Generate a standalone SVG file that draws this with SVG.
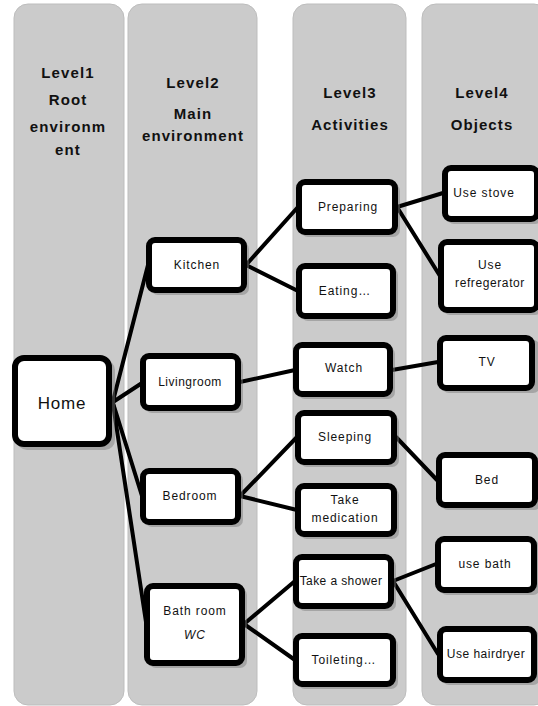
<svg xmlns="http://www.w3.org/2000/svg" width="538" height="706" viewBox="0 0 538 706">
<style>
.col{fill:#cbcbcb;stroke:#bdbdbd;stroke-width:1}
.hd{font-family:"Liberation Sans",Arial,sans-serif;font-weight:bold;font-size:15px;letter-spacing:1.1px;fill:#111;text-anchor:middle}
.box{fill:#fff;stroke:#000;stroke-width:6}
.sh{fill:#777;opacity:0.45}
.t{font-family:"Liberation Sans",Arial,sans-serif;font-size:12px;letter-spacing:0.9px;fill:#111;text-anchor:middle}
.c line{stroke:#000;stroke-width:4;stroke-linecap:round}
</style>
<rect width="538" height="706" fill="#fff"/>
<g id="columns">
<rect class="col" x="14" y="4" width="110" height="701" rx="14"/>
<rect class="col" x="128" y="4" width="129" height="701" rx="14"/>
<rect class="col" x="293" y="4" width="113" height="701" rx="14"/>
<rect class="col" x="422" y="4" width="126" height="701" rx="14"/>
</g>
<g id="headers">
<text class="hd" x="68" y="78">Level1</text>
<text class="hd" x="68" y="105">Root</text>
<text class="hd" x="68" y="132">environm</text>
<text class="hd" x="68" y="155">ent</text>
<text class="hd" x="193" y="88">Level2</text>
<text class="hd" x="193" y="119">Main</text>
<text class="hd" x="193" y="141">environment</text>
<text class="hd" x="350" y="98">Level3</text>
<text class="hd" x="350" y="130">Activities</text>
<text class="hd" x="482" y="98">Level4</text>
<text class="hd" x="482" y="130">Objects</text>
</g>
<g id="connectors" class="c">
<line x1="113" y1="401" x2="148" y2="265"/>
<line x1="113" y1="402" x2="142" y2="383"/>
<line x1="113" y1="403" x2="142" y2="496"/>
<line x1="113" y1="404" x2="146" y2="622"/>
<line x1="246" y1="265" x2="298" y2="207"/>
<line x1="246" y1="265" x2="298" y2="291"/>
<line x1="240" y1="382" x2="295" y2="370"/>
<line x1="240" y1="496" x2="297" y2="437"/>
<line x1="240" y1="496" x2="297" y2="510"/>
<line x1="244" y1="624" x2="295" y2="581"/>
<line x1="244" y1="624" x2="295" y2="660"/>
<line x1="397" y1="207" x2="443" y2="193"/>
<line x1="397" y1="207" x2="440" y2="276"/>
<line x1="392" y1="370" x2="438" y2="362"/>
<line x1="396" y1="437" x2="437" y2="480"/>
<line x1="393" y1="581" x2="436" y2="564"/>
<line x1="393" y1="581" x2="438" y2="654"/>
</g>
<g id="home">
<rect class="sh" x="17" y="360" width="98" height="90" rx="10"/>
<rect class="box" x="15" y="358" width="94" height="86" rx="9"/>
<text class="t" x="62" y="409" style="font-size:17px;letter-spacing:0.8px">Home</text>
</g>
<g id="kitchen">
<rect class="sh" x="151" y="242" width="98" height="53" rx="7"/>
<rect class="box" x="149" y="240" width="95" height="50" rx="6"/>
<text class="t" x="197" y="269">Kitchen</text>
</g>
<g id="livingroom">
<rect class="sh" x="145" y="358" width="98" height="55" rx="7"/>
<rect class="box" x="143" y="356" width="95" height="52" rx="6"/>
<text class="t" x="190" y="386" style="letter-spacing:0.5px">Livingroom</text>
</g>
<g id="bedroom">
<rect class="sh" x="145" y="473" width="98" height="54" rx="7"/>
<rect class="box" x="143" y="471" width="95" height="51" rx="6"/>
<text class="t" x="190" y="500">Bedroom</text>
</g>
<g id="bathroom">
<rect class="sh" x="149" y="588" width="98" height="80" rx="7"/>
<rect class="box" x="147" y="586" width="95" height="77" rx="6"/>
<text class="t" x="195" y="615">Bath room</text>
<text class="t" x="195" y="639" style="font-style:italic">WC</text>
</g>
<g id="preparing">
<rect class="sh" x="301" y="184" width="99" height="53" rx="7"/>
<rect class="box" x="299" y="182" width="96" height="50" rx="6"/>
<text class="t" x="348" y="211">Preparing</text>
</g>
<g id="eating">
<rect class="sh" x="301" y="268" width="97" height="53" rx="7"/>
<rect class="box" x="299" y="266" width="94" height="50" rx="6"/>
<text class="t" x="345" y="295">Eating…</text>
</g>
<g id="watch">
<rect class="sh" x="298" y="347" width="97" height="52" rx="7"/>
<rect class="box" x="296" y="345" width="94" height="49" rx="6"/>
<text class="t" x="344" y="372">Watch</text>
</g>
<g id="sleeping">
<rect class="sh" x="300" y="415" width="99" height="52" rx="7"/>
<rect class="box" x="298" y="413" width="96" height="49" rx="6"/>
<text class="t" x="345" y="441">Sleeping</text>
</g>
<g id="medication">
<rect class="sh" x="300" y="488" width="99" height="51" rx="7"/>
<rect class="box" x="298" y="486" width="96" height="48" rx="6"/>
<text class="t" x="345" y="504">Take</text>
<text class="t" x="345" y="522">medication</text>
</g>
<g id="shower">
<rect class="sh" x="298" y="559" width="98" height="52" rx="7"/>
<rect class="box" x="296" y="557" width="95" height="49" rx="6"/>
<text class="t" x="341" y="585" style="letter-spacing:0.4px">Take a shower</text>
</g>
<g id="toileting">
<rect class="sh" x="298" y="638" width="100" height="51" rx="7"/>
<rect class="box" x="296" y="636" width="97" height="48" rx="6"/>
<text class="t" x="344" y="664">Toileting…</text>
</g>
<g id="stove">
<rect class="sh" x="447" y="170" width="95" height="54" rx="7"/>
<rect class="box" x="445" y="168" width="92" height="51" rx="6"/>
<text class="t" x="484" y="197">Use stove</text>
</g>
<g id="refregerator">
<rect class="sh" x="443" y="244" width="99" height="71" rx="7"/>
<rect class="box" x="441" y="242" width="96" height="68" rx="6"/>
<text class="t" x="490" y="269">Use</text>
<text class="t" x="490" y="287" style="letter-spacing:0.6px">refregerator</text>
</g>
<g id="tv">
<rect class="sh" x="442" y="340" width="98" height="53" rx="7"/>
<rect class="box" x="440" y="338" width="92" height="50" rx="6"/>
<text class="t" x="487" y="366">TV</text>
</g>
<g id="bed">
<rect class="sh" x="441" y="457" width="100" height="53" rx="7"/>
<rect class="box" x="439" y="455" width="96" height="50" rx="6"/>
<text class="t" x="487" y="484">Bed</text>
</g>
<g id="usebath">
<rect class="sh" x="440" y="541" width="100" height="54" rx="7"/>
<rect class="box" x="438" y="539" width="96" height="51" rx="6"/>
<text class="t" x="485" y="568">use bath</text>
</g>
<g id="hairdryer">
<rect class="sh" x="442" y="631" width="98" height="54" rx="7"/>
<rect class="box" x="440" y="629" width="94" height="51" rx="6"/>
<text class="t" x="486" y="658" style="letter-spacing:0.5px">Use hairdryer</text>
</g>
</svg>
